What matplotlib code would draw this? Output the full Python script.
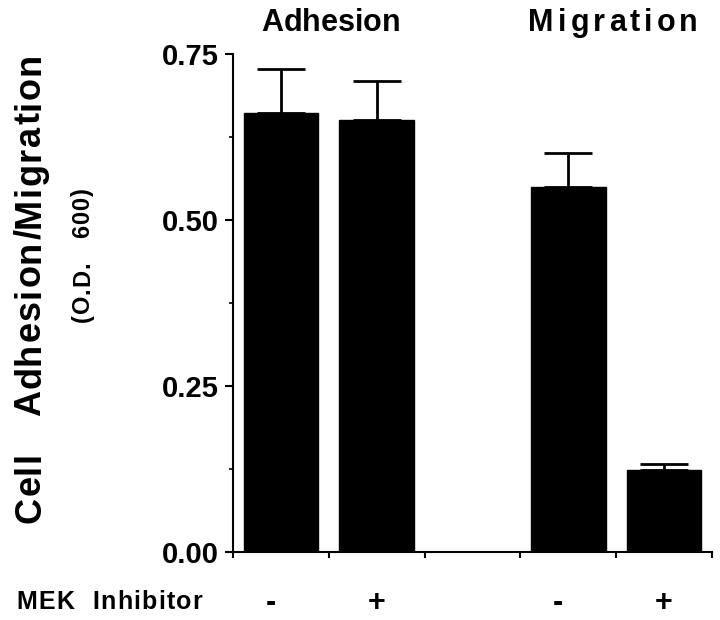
import matplotlib
matplotlib.use("Agg")
import matplotlib.pyplot as plt
from matplotlib.ticker import MultipleLocator
from matplotlib.ft2font import FT2Font
from matplotlib.font_manager import findfont, FontProperties

groups = ["Adhesion", "Migration"]
inhibitor = ["-", "+", "-", "+"]
values = [0.661, 0.651, 0.550, 0.124]
errors = [0.066, 0.059, 0.051, 0.008]
positions = [0.5, 1.5, 3.5, 4.5]
yticks = [0.00, 0.25, 0.50, 0.75]
ytick_labels = ["0.00", "0.25", "0.50", "0.75"]
ylabel_text = "Cell   Adhesion/Migration"
ylabel_unit = "(O.D.   600)"
row_label = "MEK  Inhibitor"

plt.rcParams['font.family'] = ['Liberation Sans', 'DejaVu Sans']
FP = FontProperties(family='Liberation Sans', weight='bold')
FONT_FILE = findfont(FP)
DPI = 100
W, H = 720, 620


def advances(s, size):
    f = FT2Font(FONT_FILE)
    f.set_size(size, DPI)
    return [f.load_char(ord(c)).linearHoriAdvance / 65536 for c in s]


def tracked(fig, s, size, track, center=None, start=None, y=None, x=None, vertical=False):
    adv = advances(s, size)
    total = sum(adv) + track * (len(s) - 1)
    if vertical:
        pos = center + total / 2 if center is not None else start
        for c, a in zip(s, adv):
            if c != " ":
                fig.text(x / W, 1 - pos / H, c, rotation=90, rotation_mode="anchor",
                         ha="left", va="baseline", fontsize=size, fontweight="bold")
            pos -= a + track
    else:
        pos = center - total / 2 if center is not None else start
        for c, a in zip(s, adv):
            if c != " ":
                fig.text(pos / W, 1 - y / H, c, ha="left", va="baseline",
                         fontsize=size, fontweight="bold")
            pos += a + track


fig = plt.figure(figsize=(W / DPI, H / DPI), dpi=DPI)
ax = fig.add_axes([233 / W, 1 - 552 / H, (712 - 233) / W, (552 - 54) / H])

ax.bar(positions, values, width=0.78, color="black", edgecolor="black", zorder=2)
ax.errorbar(positions, values, yerr=[[0] * len(errors), errors], fmt="none",
            ecolor="black", elinewidth=2.0, capsize=17.5, capthick=2.0, zorder=1)

ax.set_xlim(0, 5)
ax.set_ylim(0, 0.75)
ax.set_yticks(yticks)
ax.set_yticklabels(ytick_labels, fontsize=21, fontweight="bold")
ax.yaxis.set_minor_locator(MultipleLocator(0.125))
ax.set_xticks([0, 1, 2, 3, 4, 5])
ax.set_xticklabels([])
ax.tick_params(axis="y", which="major", length=6, width=1.5, pad=4)
ax.tick_params(axis="y", which="minor", length=3, width=1.2)
ax.tick_params(axis="x", which="major", length=4, width=1.5)
for s in ["top", "right"]:
    ax.spines[s].set_visible(False)
for s in ["left", "bottom"]:
    ax.spines[s].set_linewidth(1.5)

# group titles
tracked(fig, groups[0], 22, 0.0, center=331, y=31)
tracked(fig, groups[1], 22, 4.0, center=613, y=31)

# inhibitor row
tracked(fig, row_label, 18, 1.3, start=16, y=609)
for p, s in zip(positions, inhibitor):
    xpx = ax.transData.transform((p, 0))[0] - (10 if s == "-" else 0)
    fig.text(xpx / W, 1 - 603 / H, s, ha="center", va="center",
             fontsize=22, fontweight="bold")

# y labels
tracked(fig, ylabel_text, 26, 1.5, center=288, x=40, vertical=True)
tracked(fig, ylabel_unit, 17, 1.0, center=255, x=89, vertical=True)

fig.savefig("out.png", dpi=DPI)
